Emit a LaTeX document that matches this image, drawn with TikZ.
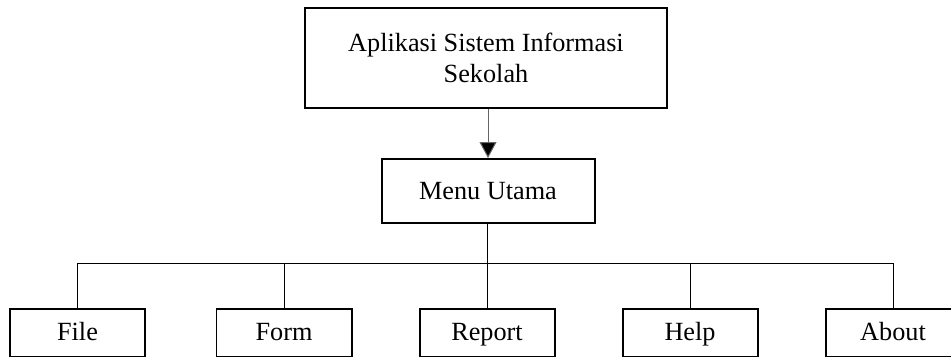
\documentclass[tikz,border=0pt]{standalone}
\usepackage{fontspec}
\setmainfont{Liberation Serif}
\usetikzlibrary{arrows.meta}

\tikzset{
    menubox/.style={draw, line width=1.7pt, minimum width=135*0.03cm, minimum height=48*0.03cm,
        inner sep=0pt, align=center, font=\fontsize{22.4}{26}\selectfont},
    itembox/.style={menubox, text height=17pt, text depth=3.4pt},
    link/.style={line width=0.85pt},
}

\begin{document}
\begin{tikzpicture}[x=0.03cm, y=-0.03cm]
    % Page frame, in pixels of the reference
    \clip (0, 0) rectangle (951, 356);

    % Application box and main menu
    \node[menubox, minimum width=362*0.03cm, minimum height=100*0.03cm] (app) at (486, 58)
        {Aplikasi Sistem Informasi\\Sekolah};
    \node[menubox, minimum width=213*0.03cm, minimum height=64*0.03cm] (menu) at (488, 191) {Menu Utama};

    % Arrow from application to menu
    \draw[link, draw=black!60, -{Triangle[width=17*0.03cm, length=16*0.03cm, fill=black]}]
        (app.south -| menu) -- (menu.north);

    % Menu items (bottom row)
    \node[itembox] (file) at (77.5, 333) {File};
    \node[itembox] (form) at (284, 333) {Form};
    \node[itembox] (report) at (487, 333) {Report};
    \node[itembox] (help) at (690, 333) {Help};
    \node[itembox] (about) at (893, 333) {About};

    % Tree lines
    \coordinate (bus) at (487, 263);
    \draw[link] (menu.south -| report) -- (report.north);
    \draw[link] (file.north) -- (file.north |- bus) -- (about.north |- bus) -- (about.north);
    \draw[link] (form.north) -- (form.north |- bus);
    \draw[link] (help.north) -- (help.north |- bus);
\end{tikzpicture}
\end{document}
